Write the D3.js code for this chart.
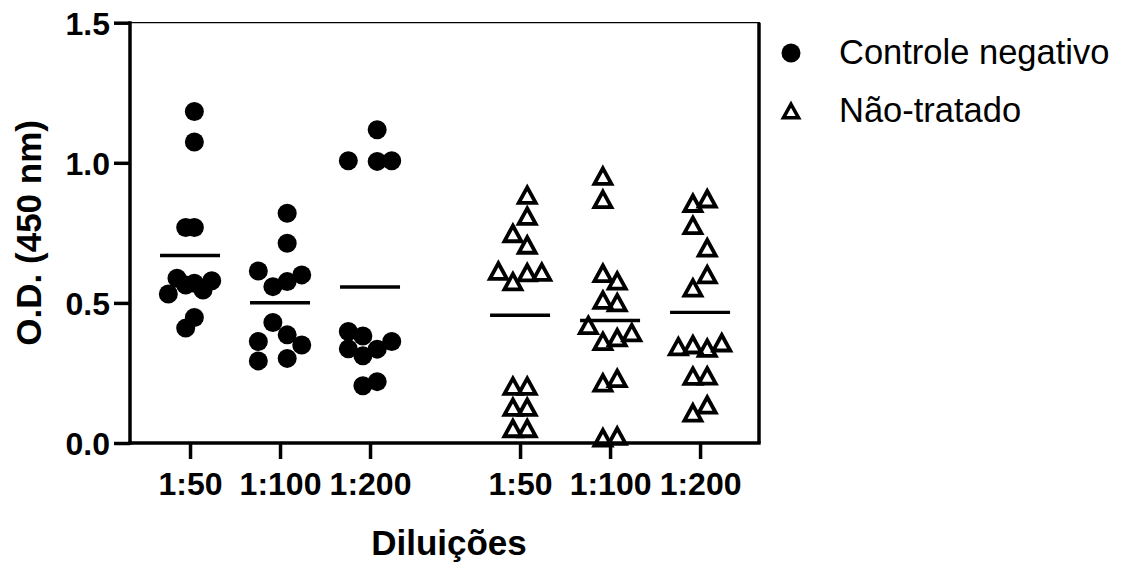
<!DOCTYPE html>
<html>
<head>
<meta charset="utf-8">
<script src="https://cdn.jsdelivr.net/npm/d3@7"></script>
<style>
  html, body { margin: 0; padding: 0; background: #fff; }
  svg { display: block; }
  text { font-family: "Liberation Sans", Arial, Helvetica, sans-serif; fill: #000; }
</style>
</head>
<body>
<svg id="chart" width="1130" height="567"></svg>
<script>
// ---------------- DATA ----------------
const dilutions = ["1:50", "1:100", "1:200"];
const seriesNames = ["Controle negativo", "Não-tratado"];
const yTicks = [0.0, 0.5, 1.0, 1.5];

// Controle negativo (filled circles)
const controle_1_50  = [1.183, 1.074, 0.769, 0.769, 0.588, 0.564, 0.570, 0.579, 0.532, 0.546, 0.448, 0.410];
const controle_1_100 = [0.820, 0.713, 0.614, 0.558, 0.576, 0.600, 0.430, 0.386, 0.362, 0.350, 0.293, 0.302];
const controle_1_200 = [1.118, 1.007, 1.005, 1.007, 0.398, 0.382, 0.362, 0.336, 0.311, 0.335, 0.204, 0.219];

// Não-tratado (open triangles)
const naoTratado_1_50  = [0.889, 0.814, 0.752, 0.711, 0.618, 0.580, 0.612, 0.614, 0.207, 0.207, 0.132, 0.132, 0.056, 0.056];
const naoTratado_1_100 = [0.957, 0.874, 0.610, 0.583, 0.514, 0.505, 0.424, 0.367, 0.380, 0.398, 0.219, 0.235, 0.023, 0.029];
const naoTratado_1_200 = [0.860, 0.876, 0.781, 0.701, 0.605, 0.558, 0.348, 0.355, 0.343, 0.362, 0.243, 0.244, 0.112, 0.140];

// horizontal scatter slots (fraction of max spread, -1..1), one per value above
const controleSlots_1_50  = [0.2, 0.2, -0.2, 0.2, -0.6, -0.2, 0.2, 1, -1, 0.6, 0.2, -0.2];
const controleSlots_1_100 = [0.33, 0.33, -1, -0.33, 0.33, 1, -0.33, 0.33, -1, 1, -1, 0.33];
const controleSlots_1_200 = [0.33, -1, 0.33, 1, -1, -0.33, 1, -1, -0.33, 0.33, -0.33, 0.33];
const naoSlots_1_50  = [0.33, 0.33, -0.33, 0.33, -1, -0.33, 0.33, 1, -0.33, 0.33, -0.33, 0.33, -0.33, 0.33];
const naoSlots_1_100 = [-0.33, -0.33, -0.33, 0.33, -0.33, 0.33, -1, -0.33, 0.33, 1, -0.33, 0.33, -0.33, 0.33];
const naoSlots_1_200 = [-0.33, 0.33, -0.33, 0.33, 0.33, -0.33, -1, -0.33, 0.33, 1, -0.33, 0.33, -0.33, 0.33];

// ---------------- BUILD TABLE ----------------
const seriesValues = [
  [controle_1_50, controle_1_100, controle_1_200],
  [naoTratado_1_50, naoTratado_1_100, naoTratado_1_200]
];
const seriesSlots = [
  [controleSlots_1_50, controleSlots_1_100, controleSlots_1_200],
  [naoSlots_1_50, naoSlots_1_100, naoSlots_1_200]
];
const groupGap = 0.667; // extra slot units between the two series
const groups = [];
seriesValues.forEach((catArr, s) => {
  catArr.forEach((vals, c) => {
    groups.push({
      series: s,
      label: dilutions[c],
      pos: s * (dilutions.length + groupGap) + c,
      values: vals,
      slots: seriesSlots[s][c]
    });
  });
});

// ---------------- LAYOUT ----------------
const svg = d3.select("#chart");
const plotL = 130, plotR = 760, plotT = 22.7, plotB = 443;
const x = d3.scaleLinear().domain([-0.667, 6.333]).range([plotL, plotR]);
const y = d3.scaleLinear().domain([0, 1.5]).range([plotB, plotT]);
const jitter = d3.scaleLinear().domain([-1, 1]).range([-21.7, 21.7]);
const axisW = 3.5;

// thin top border and right border
svg.append("line").attr("x1", plotL).attr("x2", plotR).attr("y1", plotT).attr("y2", plotT)
  .attr("stroke", "#000").attr("stroke-width", 1.2);
svg.append("line").attr("x1", plotR - 1).attr("x2", plotR - 1).attr("y1", plotT).attr("y2", plotB)
  .attr("stroke", "#000").attr("stroke-width", axisW);

// points
const triPath = (w, h) => `M0,${-h / 2}L${w / 2},${h / 2}L${-w / 2},${h / 2}Z`;
const pts = svg.append("g");
groups.forEach(g => {
  g.values.forEach((v, i) => {
    const cx = x(g.pos) + jitter(g.slots[i]);
    const cy = y(v);
    if (g.series === 0) {
      pts.append("circle").attr("cx", cx).attr("cy", cy).attr("r", 9.5).attr("fill", "#000");
    } else {
      pts.append("path").attr("d", triPath(17, 15.5))
        .attr("transform", `translate(${cx},${cy + 1.2})`)
        .attr("fill", "none").attr("stroke", "#000")
        .attr("stroke-width", 3.8).attr("stroke-linejoin", "miter");
    }
  });
});

// mean lines
svg.append("g").selectAll("line").data(groups).join("line")
  .attr("x1", d => x(d.pos) - 30).attr("x2", d => x(d.pos) + 30)
  .attr("y1", d => y(d3.mean(d.values))).attr("y2", d => y(d3.mean(d.values)))
  .attr("stroke", "#000").attr("stroke-width", 3.4);

// y axis
const yAxis = d3.axisLeft(y).tickValues(yTicks).tickFormat(d3.format(".1f"))
  .tickSizeInner(16).tickSizeOuter(0).tickPadding(4);
const gy = svg.append("g").attr("transform", `translate(${plotL},0)`).call(yAxis);
gy.select(".domain").attr("stroke-width", axisW).attr("d", `M0,${plotT - 1.5}V${plotB + 1.7}`);
gy.selectAll(".tick line").attr("stroke-width", axisW);
gy.selectAll(".tick text").style("font-size", "32px").style("font-weight", "bold")
  .attr("font-family", null).attr("dy", "0.36em");

// x axis
const xAxis = d3.axisBottom(x).tickValues(groups.map(g => g.pos))
  .tickFormat((d, i) => groups[i].label).tickSizeInner(16).tickSizeOuter(0).tickPadding(12);
const gx = svg.append("g").attr("transform", `translate(0,${plotB})`).call(xAxis);
gx.select(".domain").attr("stroke-width", axisW).attr("d", `M${plotL - 1.7},0H${plotR + 0.7}`);
gx.selectAll(".tick line").attr("stroke-width", axisW);
gx.selectAll(".tick text").style("font-size", "32px").style("font-weight", "bold")
  .attr("font-family", null).attr("dy", "0.75em");

// axis titles
svg.append("text").attr("x", 449).attr("y", 555).attr("text-anchor", "middle")
  .style("font-size", "35px").style("font-weight", "bold").text("Diluições");
svg.append("text").attr("transform", `translate(41,${(plotT + plotB) / 2}) rotate(-90)`)
  .attr("text-anchor", "middle").style("font-size", "35px").style("font-weight", "bold")
  .text("O.D. (450 nm)");

// legend
const leg = svg.append("g");
leg.append("circle").attr("cx", 791).attr("cy", 53).attr("r", 9.5).attr("fill", "#000");
leg.append("path").attr("d", triPath(15, 13.5)).attr("transform", "translate(791,111)")
  .attr("fill", "none").attr("stroke", "#000").attr("stroke-width", 3.6);
leg.selectAll("text").data(seriesNames).join("text")
  .attr("x", 839).attr("y", (d, i) => 64 + i * 58)
  .style("font-size", "34.5px").text(d => d);
</script>
</body>
</html>
